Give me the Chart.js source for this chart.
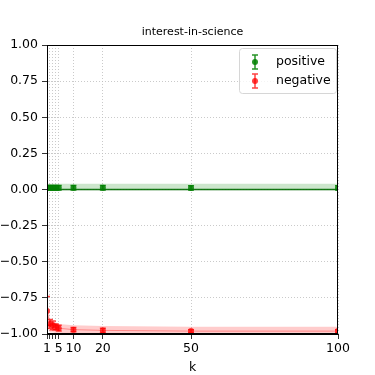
<!DOCTYPE html>
<html>
<head>
<meta charset="utf-8">
<script src="https://cdn.jsdelivr.net/npm/chart.js@4"></script>
<style>
  html, body { margin: 0; padding: 0; background: #fff; }
  #wrap { width: 375px; height: 375px; }
</style>
</head>
<body>
<div id="wrap"><canvas id="chart" width="375" height="375"></canvas></div>
<script>
// values
const kValues = [1, 2, 3, 4, 5, 10, 20, 50, 100];
const kTickLabels = ['1', '', '', '', '5', '10', '20', '50', '100'];

const posMean = [0.012, 0.012, 0.012, 0.012, 0.012, 0.012, 0.012, 0.011, 0.011];
const posErr = [0.015, 0.015, 0.015, 0.015, 0.015, 0.015, 0.015, 0.015, 0.015];
const posLow = [-0.005, -0.005, -0.005, -0.005, -0.005, -0.005, -0.005, -0.005, -0.005];
const posHigh = [0.04, 0.04, 0.04, 0.04, 0.04, 0.04, 0.04, 0.04, 0.04];
const posMedian = [0, 0, 0, 0, 0, 0, 0, 0, 0];

const negMean = [-0.84, -0.93, -0.94, -0.95, -0.96, -0.97, -0.975, -0.98, -0.98];
const negErr = [0.1, 0.03, 0.03, 0.02, 0.02, 0.015, 0.015, 0.01, 0.01];
const negLow = [-0.95, -0.99, -0.99, -0.995, -0.995, -1.0, -1.0, -1.0, -1.0];
const negHigh = [-0.75, -0.9, -0.91, -0.92, -0.93, -0.94, -0.945, -0.95, -0.95];

const GREEN = 'rgba(0, 128, 0, 0.85)';
const RED = 'rgba(255, 0, 0, 0.75)';
const FONT = 'DejaVu Sans';

const pts = (ys) => kValues.map((x, i) => ({ x: x, y: ys[i] }));

function band(ys, color, fill) {
    return {
        data: pts(ys), borderWidth: 0, pointRadius: 0, backgroundColor: color,
        borderColor: 'transparent', fill: fill, showLine: true, isBand: true
    };
}

// error bars, frame and legend drawn on top
const errorBarPlugin = {
    id: 'errorBars',
    afterDatasetsDraw(chart) {
        const ctx = chart.ctx;
        const xs = chart.scales.x, ys = chart.scales.y;
        const area = chart.chartArea;
        ctx.save();
        ctx.beginPath();
        ctx.rect(area.left, area.top - 4, area.right - area.left, area.bottom - area.top + 8);
        ctx.clip();
        [[posMean, posErr, GREEN], [negMean, negErr, RED]].forEach(([m, e, c]) => {
            ctx.strokeStyle = c;
            ctx.lineWidth = 1.5;
            kValues.forEach((k, i) => {
                const px = xs.getPixelForValue(k);
                const top = ys.getPixelForValue(m[i] + e[i]);
                const bot = ys.getPixelForValue(m[i] - e[i]);
                ctx.beginPath();
                ctx.moveTo(px, top); ctx.lineTo(px, bot);
                ctx.moveTo(px - 3, top); ctx.lineTo(px + 3, top);
                ctx.moveTo(px - 3, bot); ctx.lineTo(px + 3, bot);
                ctx.stroke();
            });
        });
        ctx.restore();

        // axes box
        ctx.save();
        ctx.strokeStyle = '#000';
        ctx.lineWidth = 1;
        ctx.strokeRect(area.left + 0.5, area.top + 0.5, area.right - area.left - 1, area.bottom - area.top - 1);
        ctx.restore();

        // legend
        const lx = area.right - 99, ly = area.top + 3, lw = 97, lh = 45;
        ctx.save();
        ctx.fillStyle = 'rgba(255,255,255,0.8)';
        ctx.strokeStyle = '#d6d6d6';
        ctx.lineWidth = 1;
        ctx.beginPath();
        ctx.roundRect(lx + 0.5, ly + 0.5, lw, lh, 3);
        ctx.fill();
        ctx.stroke();
        ctx.font = '12.5px "' + FONT + '"';
        ctx.textBaseline = 'middle';
        [['positive', GREEN, ly + 14], ['negative', RED, ly + 33]].forEach(([label, c, y]) => {
            const mx = lx + 16;
            ctx.strokeStyle = c;
            ctx.fillStyle = c;
            ctx.lineWidth = 1.5;
            ctx.beginPath();
            ctx.moveTo(mx, y - 7); ctx.lineTo(mx, y + 7);
            ctx.moveTo(mx - 3, y - 7); ctx.lineTo(mx + 3, y - 7);
            ctx.moveTo(mx - 3, y + 7); ctx.lineTo(mx + 3, y + 7);
            ctx.stroke();
            ctx.beginPath();
            ctx.arc(mx, y, 3, 0, Math.PI * 2);
            ctx.fill();
            ctx.fillStyle = '#000';
            ctx.fillText(label, lx + 37, y);
        });
        ctx.restore();
    }
};

const ctx = document.getElementById('chart').getContext('2d');
new Chart(ctx, {
    type: 'scatter',
    data: {
        datasets: [
            band(posLow, 'rgba(0,128,0,0.2)', false),
            band(posHigh, 'rgba(0,128,0,0.2)', '-1'),
            {
                label: 'median', data: pts(posMedian), showLine: true, borderColor: 'rgba(0,100,0,0.9)',
                borderWidth: 1.5, pointRadius: 0, fill: false
            },
            {
                label: 'positive', data: pts(posMean), showLine: false, backgroundColor: GREEN,
                borderColor: GREEN, pointRadius: 3, pointBorderWidth: 0
            },
            band(negLow, 'rgba(255,0,0,0.2)', false),
            band(negHigh, 'rgba(255,0,0,0.2)', '-1'),
            {
                label: 'negative', data: pts(negMean), showLine: true, backgroundColor: RED,
                borderColor: 'rgba(255,0,0,0.35)', borderWidth: 1, pointRadius: 3, pointBorderWidth: 0,
                pointBackgroundColor: RED
            }
        ]
    },
    options: {
        responsive: false,
        animation: false,
        layout: { padding: { left: 0, right: 37, top: 0, bottom: 0 } },
        plugins: {
            legend: { display: false },
            tooltip: { enabled: false },
            title: {
                display: true, text: 'interest-in-science', color: '#000', fullSize: false,
                font: { family: FONT, size: 11, weight: 'normal', lineHeight: 1.2 },
                padding: { top: 26, bottom: 5.8 }
            }
        },
        scales: {
            x: {
                type: 'linear', min: 1, max: 100,
                afterBuildTicks: (s) => { s.ticks = kValues.map(v => ({ value: v })); },
                afterFit: (s) => { s.height = 41; },
                ticks: {
                    color: '#000', padding: 2, maxRotation: 0, autoSkip: false,
                    font: { family: FONT, size: 12.5 },
                    callback: (v) => kTickLabels[kValues.indexOf(v)] ?? ''
                },
                grid: { color: '#bdbdbd', lineWidth: 0.8, tickColor: '#000', tickLength: 5, tickBorderDash: [] },
                border: { display: true, color: '#000', dash: [1, 2] },
                title: { display: true, text: 'k', color: '#000', font: { family: FONT, size: 12.5 }, padding: { top: 2, bottom: 0 } }
            },
            y: {
                min: -1, max: 1,
                afterFit: (s) => { s.width = 47; },
                ticks: {
                    stepSize: 0.25, color: '#000', padding: 4,
                    font: { family: FONT, size: 12.5 },
                    callback: (v) => (v < 0 ? '\u2212' : '') + Math.abs(v).toFixed(2)
                },
                grid: { color: '#bdbdbd', lineWidth: 0.8, tickColor: '#000', tickLength: 5, tickBorderDash: [] },
                border: { display: true, color: '#000', dash: [1, 2] }
            }
        }
    },
    plugins: [errorBarPlugin]
});
</script>
</body>
</html>
